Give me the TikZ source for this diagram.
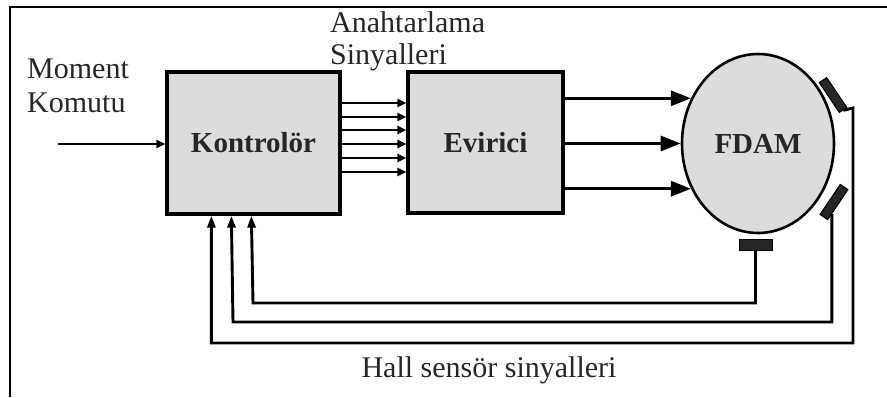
\documentclass[tikz,border=0pt]{standalone}
\usepackage{fontspec}
\setmainfont{Liberation Serif}
\usetikzlibrary{arrows.meta,shapes.geometric,calc}
\definecolor{boxfill}{HTML}{DCDCDC}
\definecolor{txt}{HTML}{262626}
\tikzset{
  blk/.style={draw=black, line width=3.3pt, fill=boxfill, inner sep=0pt, text=txt,
              font=\fontsize{29}{31}\selectfont\bfseries},
  lbl/.style={inner sep=0pt, text=txt, font=\fontsize{30}{32}\selectfont, anchor=base west},
  wire/.style={line width=2.9pt},
  smallarr/.style={wire, -{Triangle[length=9pt,width=8pt]}},
  bigarr/.style={wire, -{Triangle[length=20pt,width=15pt]}},
  fbarr/.style={wire, -{Triangle[length=12pt,width=8pt]}},
  sensor/.style={draw=black, fill=black!85, line width=1pt, rectangle, inner sep=0pt}
}
\begin{document}
\begin{tikzpicture}[x=1pt,y=-1pt]
\useasboundingbox (0,0) rectangle (887,397);
% frame
\draw[line width=2pt] (10,397) -- (10,7) -- (887,7);
% blocks
\node[blk, minimum width=173pt, minimum height=142pt] (k) at (253.5,143) {Kontrolör};
\node[blk, minimum width=155pt, minimum height=141pt] (ev) at (485.5,142.5) {Evirici};
\node[blk, ellipse, line width=2.6pt, minimum width=152pt, minimum height=179pt] (m) at (758,143.5) {FDAM};
% texts
\node[lbl] (t1) at (27,78) {Moment};
\node[lbl] (t2) at (27,112) {Komutu};
\node[lbl] (t3) at (330,32) {Anahtarlama};
\node[lbl] (t4) at (330,64) {Sinyalleri};
\node[lbl, anchor=base] (t5) at (489,377) {Hall sensör sinyalleri};
% input
\coordinate (in) at (58,144);
\draw[smallarr] (in) -- (k.west |- in);
% switching signals
\foreach \yy in {103,117,130,144,158,172}{
  \coordinate (a\yy) at (0,\yy);
  \draw[smallarr] (k.east |- a\yy) -- (ev.west |- a\yy);
}
% inverter to motor
\draw[bigarr] (ev.east |- m.146) -- (m.146);
\draw[bigarr] (ev.east |- m.180) -- (m.180);
\draw[bigarr] (ev.east |- m.214) -- (m.214);
% sensors (positions)
\node[sensor, minimum width=36pt, minimum height=9pt, rotate=-56] (s1) at (833,95) {};
\node[sensor, minimum width=36pt, minimum height=9pt, rotate=56] (s2) at (834,202) {};
\node[sensor, minimum width=33pt, minimum height=11pt] (s3) at (755.5,245) {};
% feedback
\coordinate (f1) at ($(k.south west)+(46,0)$);
\coordinate (f2) at ($(k.south west)+(66,0)$);
\coordinate (f3) at ($(k.south west)+(86,0)$);
\coordinate (s2o) at ($(s2.south west)!0.4!(s2.south)$);
\draw[fbarr] (s1.east) -- (853,108) -- (853,343) -| (f1);
\draw[fbarr] (s2o) |- (233,322) -- (f2);
\draw[fbarr] (s3.south) |- (253,303) -- (f3);
% redraw sensors on top
\node[sensor, minimum width=36pt, minimum height=9pt, rotate=56] at (s2) {};
\end{tikzpicture}
\end{document}
